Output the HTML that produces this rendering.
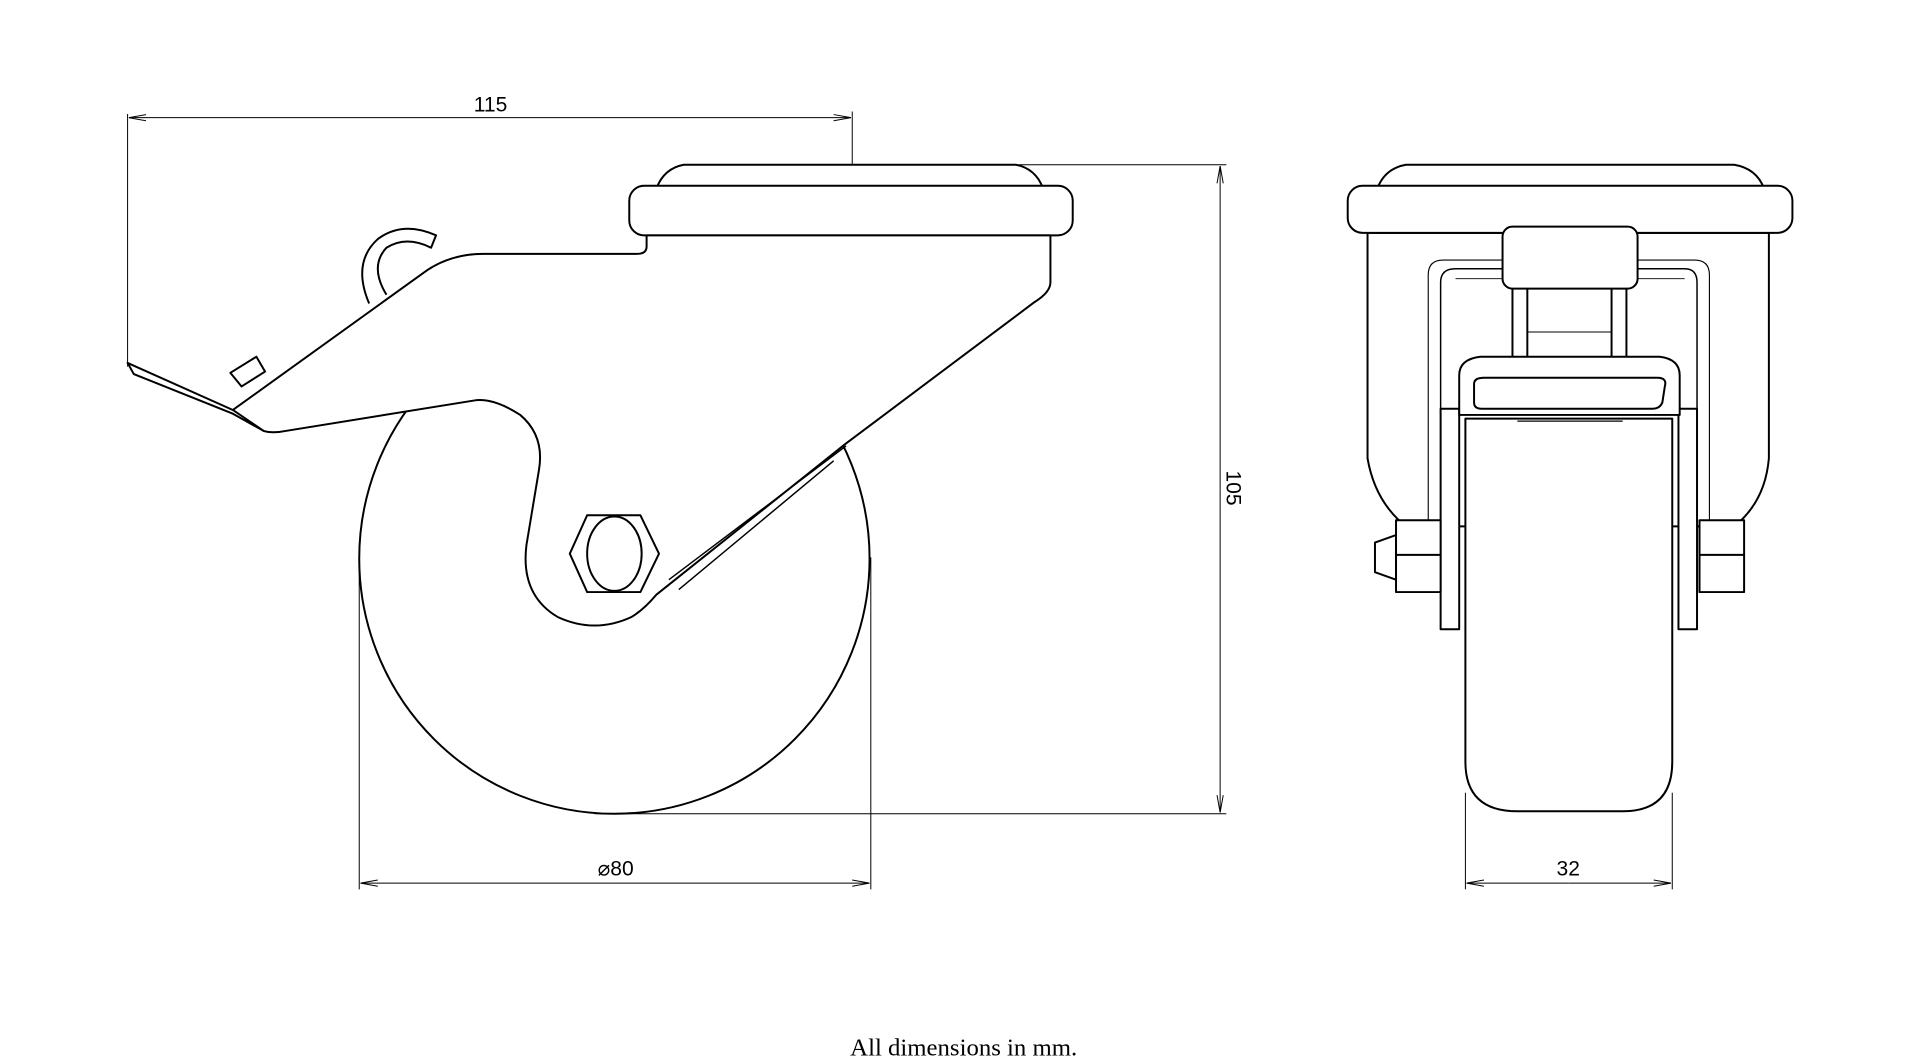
<!DOCTYPE html>
<html><head><meta charset="utf-8"><style>
html,body{margin:0;padding:0;background:#fff;width:1920px;height:1062px;overflow:hidden}
svg{display:block}
text{font-family:"Liberation Sans",sans-serif;fill:#000}
</style></head><body>
<svg width="1920" height="1062" viewBox="0 0 1550 857.4" preserveAspectRatio="none">
<defs>
<marker id="a" markerWidth="14" markerHeight="6" refX="14" refY="3" orient="auto" markerUnits="userSpaceOnUse"><path d="M0,0.5 L14,3 L0,5.5" fill="none" stroke="#000" stroke-width="0.8"/></marker>
</defs>
<g fill="none" stroke="#000" stroke-width="0.8">
<line x1="103" y1="92" x2="103" y2="296"/>
<line x1="688" y1="90" x2="688" y2="235"/>
<line x1="396" y1="95" x2="104" y2="95" marker-end="url(#a)"/>
<line x1="396" y1="95" x2="687" y2="95" marker-end="url(#a)"/>
<line x1="822" y1="133" x2="990" y2="133"/>
<line x1="480" y1="657" x2="990" y2="657"/>
<line x1="985" y1="395" x2="985" y2="134" marker-end="url(#a)"/>
<line x1="985" y1="395" x2="985" y2="656" marker-end="url(#a)"/>
<line x1="290" y1="450" x2="290" y2="718"/>
<line x1="703" y1="450" x2="703" y2="718"/>
<line x1="496" y1="713" x2="291" y2="713" marker-end="url(#a)"/>
<line x1="496" y1="713" x2="702" y2="713" marker-end="url(#a)"/>
<line x1="1183" y1="640" x2="1183" y2="718"/>
<line x1="1350" y1="640" x2="1350" y2="718"/>
<line x1="1266" y1="713" x2="1184" y2="713" marker-end="url(#a)"/>
<line x1="1266" y1="713" x2="1349" y2="713" marker-end="url(#a)"/>
</g>
<g fill="#fff" stroke="#000" stroke-width="1.6" stroke-linejoin="round">
<circle cx="496" cy="451" r="206"/>
<path d="M530,152 Q536,136 552,133 L820,133 Q836,136 842,152 Z"/>
<rect x="508" y="150" width="358" height="40" rx="12"/>
<path d="M522,190 L522,199 Q522,205 514,205 L390,205 Q365,205 345,218 L188,331 L103,293 L108,302 L188,334 L213,348 Q220,350 230,348 L385,323 Q400,322 420,335 Q440,352 435,380 L425,440 Q420,480 450,498 Q480,512 510,498 Q520,492 530,480 L683,358 L835,244 Q848,236 848,228 L848,190 Z"/>
<path d="M188,331 L213,348" fill="none"/>
<path d="M298,245 Q284,212 305,193 Q325,178 352,190 L348,200 Q328,190 312,200 Q298,215 312,238" />
<path d="M186,301 L207,288 L214,300 L195,312 Z"/>
<path d="M683,360 L540,468" fill="none" stroke-width="1.2"/>
<path d="M673,372 L548,476" fill="none" stroke-width="1.2"/>
<path d="M460,447 L474,416 L517,416 L532,447 L517,478 L474,478 Z"/>
<ellipse cx="496" cy="447" rx="22" ry="30"/>
<path d="M1104,188 L1104,370 Q1110,405 1135,425 L1400,425 Q1425,405 1428,370 L1428,188 Z"/>
<path d="M1112,152 Q1118,136 1135,133 L1400,133 Q1418,136 1424,152 Z"/>
<rect x="1088" y="150" width="359" height="38" rx="12"/>
<path d="M1153,420 L1153,222 Q1153,210 1165,210 L1368,210 Q1380,210 1380,222 L1380,420" fill="none" stroke-width="0.9"/>
<path d="M1163,335 L1163,228 Q1163,217 1175,217 L1360,217 Q1370,217 1370,228 L1370,335" fill="none" stroke-width="1.2"/>
<line x1="1175" y1="225" x2="1360" y2="225" stroke-width="0.8"/>
<rect x="1221" y="232" width="12" height="60"/>
<rect x="1301" y="232" width="12" height="60"/>
<line x1="1233" y1="268" x2="1301" y2="268" stroke-width="0.8"/>
<rect x="1213" y="183" width="109" height="50" rx="8"/>
<rect x="1163" y="330" width="15" height="178"/>
<rect x="1355" y="330" width="15" height="178"/>
<path d="M1183,338 L1350,338 L1350,615 Q1350,655 1310,655 L1225,655 Q1183,655 1183,615 Z"/>
<path d="M1178,335 L1178,303 Q1178,290 1195,288 L1340,288 Q1356,290 1356,303 L1356,335 Z"/>
<path d="M1190,310 Q1190,305 1198,305 L1338,305 Q1346,305 1344,312 L1342,325 Q1340,330 1334,330 L1196,330 Q1190,330 1190,325 Z"/>
<line x1="1225" y1="340" x2="1310" y2="340" stroke-width="1"/>
<path d="M1110,438 L1127,432 L1127,468 L1110,462 Z"/>
<rect x="1127" y="420" width="36" height="58"/>
<line x1="1127" y1="448" x2="1163" y2="448"/>
<rect x="1372" y="420" width="36" height="58"/>
<line x1="1372" y1="448" x2="1408" y2="448"/>
</g>
<g font-size="17">
<text x="396" y="90" text-anchor="middle">115</text>
<text x="497" y="707" text-anchor="middle">⌀80</text>
<text x="1266" y="707" text-anchor="middle">32</text>
<text transform="translate(990,394) rotate(90)" text-anchor="middle">105</text>
</g>
<text x="778" y="852" text-anchor="middle" font-size="20" style="font-family:'Liberation Serif',serif">All dimensions in mm.</text>
</svg>
</body></html>
